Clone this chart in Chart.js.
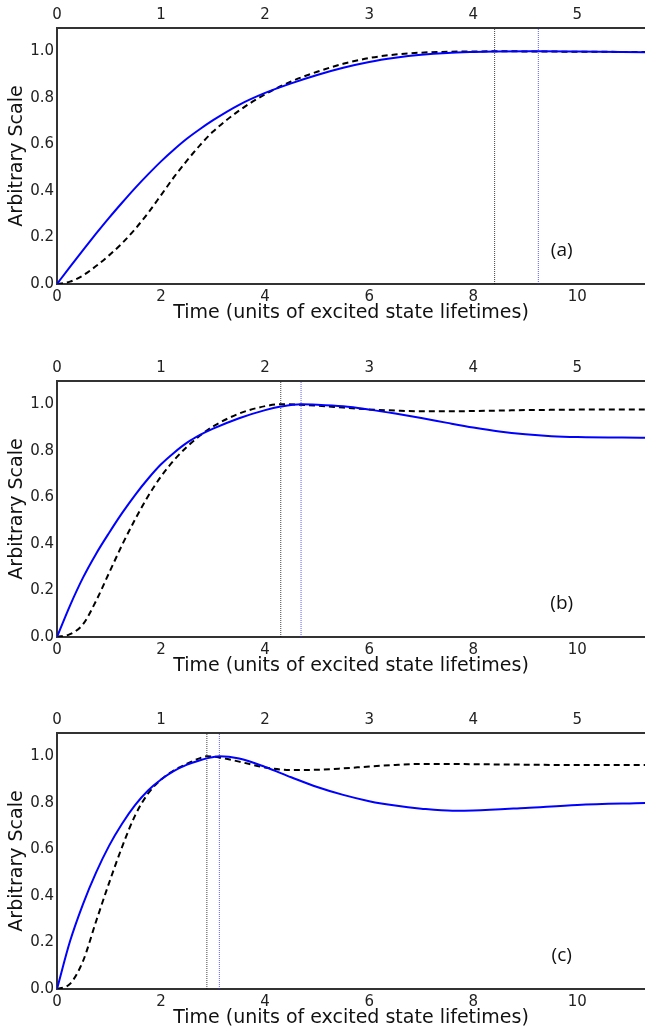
<!DOCTYPE html>
<html>
<head>
<meta charset="utf-8">
<script src="https://cdn.jsdelivr.net/npm/chart.js@4.4.1/dist/chart.umd.min.js"></script>
<style>
  body { margin: 0; background: #fff; overflow: hidden; }
  canvas { position: absolute; left: 0; }
</style>
</head>
<body>
<canvas id="panelA" width="645" height="340" style="top:0px"></canvas>
<canvas id="panelB" width="645" height="340" style="top:353px"></canvas>
<canvas id="panelC" width="645" height="340" style="top:705px"></canvas>
<script>
// time in units of excited state lifetimes (bottom axis)
const timesA = [0, 0.25, 0.5, 0.75, 1, 1.25, 1.5, 1.75, 2, 2.25, 2.5, 2.75, 3, 3.5, 4, 4.5, 5, 5.5, 6, 6.5, 7, 7.5, 8, 8.41, 9.25, 10, 11.3];
const blueA  = [0, 0.074, 0.146, 0.216, 0.284, 0.349, 0.412, 0.471, 0.527, 0.578, 0.625, 0.666, 0.704, 0.77, 0.821, 0.862, 0.898, 0.929, 0.954, 0.972, 0.985, 0.993, 0.997, 0.999, 1.0, 0.999, 0.996];
const dashA  = [0, 0.01, 0.037, 0.077, 0.123, 0.175, 0.236, 0.305, 0.382, 0.46, 0.531, 0.597, 0.655, 0.745, 0.815, 0.87, 0.912, 0.946, 0.971, 0.986, 0.994, 0.998, 0.999, 1.0, 0.999, 0.998, 0.997];

const timesB = [0, 0.25, 0.5, 0.75, 1, 1.25, 1.5, 1.75, 2, 2.25, 2.5, 2.75, 3, 3.5, 4, 4.3, 4.69, 5, 5.5, 6, 6.5, 7, 7.5, 8, 8.5, 9, 9.5, 10, 11.3];
const blueB  = [0, 0.135, 0.255, 0.357, 0.447, 0.532, 0.61, 0.68, 0.742, 0.792, 0.835, 0.868, 0.895, 0.94, 0.975, 0.99, 1.0, 0.998, 0.991, 0.977, 0.96, 0.941, 0.92, 0.90, 0.883, 0.871, 0.863, 0.859, 0.856];
const dashB  = [0, 0.012, 0.055, 0.155, 0.275, 0.395, 0.505, 0.605, 0.69, 0.76, 0.818, 0.866, 0.905, 0.96, 0.992, 1.0, 0.998, 0.994, 0.986, 0.978, 0.973, 0.97, 0.97, 0.971, 0.973, 0.975, 0.976, 0.977, 0.978];

const timesC = [0, 0.25, 0.5, 0.75, 1, 1.25, 1.5, 1.75, 2, 2.25, 2.5, 2.75, 2.88, 3.12, 3.5, 4, 4.5, 5, 5.5, 6, 6.5, 7, 7.6, 8, 9, 10, 11.3];
const blueC  = [0, 0.205, 0.365, 0.50, 0.615, 0.71, 0.79, 0.853, 0.90, 0.937, 0.964, 0.983, 0.991, 1.0, 0.99, 0.954, 0.91, 0.868, 0.834, 0.807, 0.788, 0.775, 0.766, 0.767, 0.778, 0.791, 0.799];
const dashC  = [0, 0.022, 0.12, 0.29, 0.455, 0.61, 0.745, 0.84, 0.90, 0.94, 0.968, 0.992, 1.0, 0.995, 0.977, 0.952, 0.941, 0.942, 0.948, 0.956, 0.963, 0.967, 0.967, 0.966, 0.964, 0.962, 0.962];

// peak positions marked by the dotted vertical lines [dashed peak, blue peak]
const peaksA = [8.41, 9.25];
const peaksB = [4.30, 4.69];
const peaksC = [2.88, 3.12];

const panelTags = ['(a)', '(b)', '(c)'];
const yTicks = [0, 0.2, 0.4, 0.6, 0.8, 1.0];
const xMax = 11.3;

Chart.defaults.font.family = "'DejaVu Sans', sans-serif";
Chart.defaults.color = '#222';

function points(xs, ys) {
  return xs.map((x, i) => ({ x: x, y: ys[i] }));
}

function vline(x, color) {
  return {
    data: [{ x: x, y: 0 }, { x: x, y: 1.1 }],
    borderColor: color,
    borderWidth: 1,
    borderDash: [1, 1],
    pointRadius: 0
  };
}

const tagPlugin = {
  id: 'tag',
  afterDraw(chart, args, opts) {
    const ctx = chart.ctx;
    const x = chart.scales.x.getPixelForValue(9.7);
    const y = chart.scales.y.getPixelForValue(0.142);
    ctx.save();
    ctx.font = "19px 'Open Sans'";
    ctx.fillStyle = '#111';
    ctx.textAlign = 'center';
    ctx.textBaseline = 'middle';
    ctx.fillText(opts.text, x, y);
    ctx.restore();
  }
};

function makePanel(id, times, blue, dash, peaks, tag) {
  const border = { color: '#333', width: 2 };
  const noGrid = { display: false, drawTicks: false };
  new Chart(document.getElementById(id), {
    type: 'line',
    data: {
      datasets: [
        { data: points(times, blue), borderColor: '#0000ff', borderWidth: 2, pointRadius: 0, cubicInterpolationMode: 'monotone' },
        { data: points(times, dash), borderColor: '#000', borderWidth: 2, borderDash: [6, 4], pointRadius: 0, cubicInterpolationMode: 'monotone' },
        vline(peaks[0], 'rgba(0,0,0,0.75)'),
        vline(peaks[1], 'rgba(40,40,255,0.75)')
      ]
    },
    options: {
      responsive: false,
      animation: false,
      layout: { padding: 0 },
      plugins: { legend: { display: false }, tooltip: { enabled: false }, tag: { text: tag } },
      scales: {
        x: {
          type: 'linear', position: 'bottom', min: 0, max: xMax,
          ticks: { stepSize: 2, includeBounds: false, padding: 4, font: { size: 15 } },
          grid: noGrid, border: border,
          title: { display: true, text: 'Time (units of excited state lifetimes)', color: '#111', font: { size: 19 }, padding: { top: 0, bottom: 16 } },
          afterFit: s => { s.height = 56; }
        },
        x2: {
          type: 'linear', position: 'top', min: 0, max: xMax / 2,
          ticks: { stepSize: 1, includeBounds: false, padding: 4, font: { size: 15 } },
          grid: noGrid, border: border,
          afterFit: s => { s.height = 28; }
        },
        y: {
          min: 0, max: 1.1,
          afterBuildTicks: s => { s.ticks = yTicks.map(v => ({ value: v })); },
          ticks: { padding: 3, font: { size: 15 }, callback: v => v.toFixed(1) },
          grid: noGrid, border: border,
          title: { display: true, text: 'Arbitrary Scale', color: '#111', font: { size: 19 }, padding: { top: 6, bottom: 0 } },
          afterFit: s => { s.width = 57; }
        }
      }
    },
    plugins: [tagPlugin]
  });
}

makePanel('panelA', timesA, blueA, dashA, peaksA, panelTags[0]);
makePanel('panelB', timesB, blueB, dashB, peaksB, panelTags[1]);
makePanel('panelC', timesC, blueC, dashC, peaksC, panelTags[2]);
</script>
</body>
</html>
